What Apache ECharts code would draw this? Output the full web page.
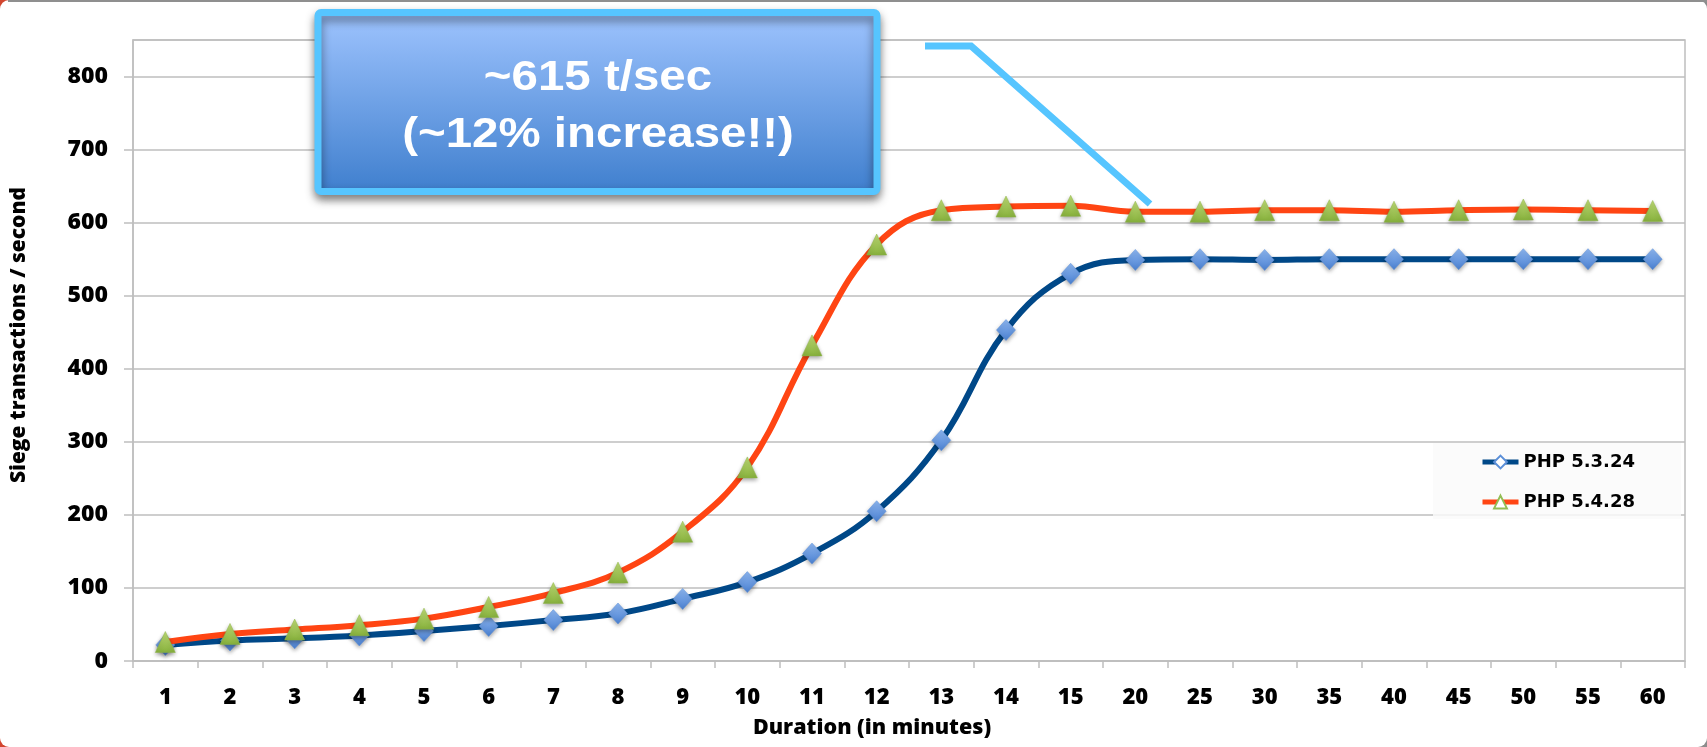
<!DOCTYPE html>
<html>
<head>
<meta charset="utf-8">
<script src="https://cdn.jsdelivr.net/npm/echarts@6/dist/echarts.min.js"></script>
<style>
  html, body { margin: 0; padding: 0; width: 1707px; height: 747px; overflow: hidden;
    background: linear-gradient(90deg, #d2452f 0px, #d2452f 40px, #8c8c8c 40px); }
  #chart { position: absolute; left: 0; top: 0; width: 1707px; height: 747px; background: #fff; border-radius: 9px; }
  #topline { position: absolute; left: 8px; right: 0; top: 0; height: 2px; background: #8f8f8f; }
</style>
</head>
<body>
<div id="chart"></div>
<div id="topline"></div>
<script>
// ---- data ----
const categories = ['1','2','3','4','5','6','7','8','9','10','11','12','13','14','15','20','25','30','35','40','45','50','55','60'];
const php5324 = [22, 28, 31, 35, 41, 48, 56, 65, 85, 108, 147, 205, 302, 453, 530, 549, 550, 549, 550, 550, 550, 550, 550, 550];
const php5428 = [26, 37, 43, 49, 58, 74, 93, 121, 177, 265, 432, 570, 617, 622, 623, 615, 615, 617, 617, 615, 617, 618, 617, 616];
const seriesNames = ['PHP 5.3.24', 'PHP 5.4.28'];
const yTicks = { min: 0, max: 850, interval: 100 };
const xTitle = 'Duration (in minutes)';
const yTitle = 'Siege transactions / second';
const noteLines = ['~615 t/sec', '(~12% increase!!)'];

const chart = echarts.init(document.getElementById('chart'));
const grey = '#BEBEBE';
const labelFont = 'Open Sans';

const option = {
  animation: false,
  backgroundColor: 'transparent',
  grid: { left: 133, right: 22, top: 40, bottom: 86, show: true, borderColor: grey, borderWidth: 1.5 },
  legend: {
    orient: 'vertical',
    left: 1433, top: 443,
    padding: [10, 46, 8, 47],
    backgroundColor: 'rgba(250,250,250,0.85)',
    itemWidth: 36, itemHeight: 16, itemGap: 22,
    lineStyle: { width: 5 },
    textStyle: { fontFamily: 'DejaVu Sans', fontWeight: 'bold', fontSize: 18, color: '#000' },
    data: [
      { name: seriesNames[0], itemStyle: { color: '#ffffff', borderColor: '#5B8FD8', borderWidth: 2, shadowBlur: 0, shadowOffsetY: 0 } },
      { name: seriesNames[1], itemStyle: { color: '#ffffff', borderColor: '#93BE55', borderWidth: 2, shadowBlur: 0, shadowOffsetY: 0 } }
    ]
  },
  xAxis: {
    type: 'category',
    data: categories,
    boundaryGap: true,
    name: xTitle,
    nameLocation: 'middle',
    nameGap: 56,
    nameTextStyle: { fontFamily: labelFont, fontWeight: 800, fontSize: 21.5, color: '#000', padding: [0, 74, 0, 0] },
    axisLine: { lineStyle: { color: grey, width: 1.5 } },
    axisTick: { show: true, interval: 0, alignWithLabel: false, length: 7, lineStyle: { color: grey, width: 1.5 } },
    axisLabel: { interval: 0, margin: 26, fontFamily: labelFont, fontWeight: 800, fontSize: 22, color: '#000' },
    splitLine: { show: false }
  },
  yAxis: {
    type: 'value',
    min: yTicks.min, max: yTicks.max, interval: yTicks.interval,
    name: yTitle,
    nameLocation: 'middle',
    nameGap: 103,
    nameTextStyle: { fontFamily: labelFont, fontWeight: 800, fontSize: 21, color: '#000', padding: [0, 0, 0, 31] },
    axisLine: { show: true, lineStyle: { color: grey, width: 1.5 } },
    axisTick: { show: true, length: 9, lineStyle: { color: grey, width: 1.5 } },
    axisLabel: { margin: 25, showMaxLabel: false, fontFamily: labelFont, fontWeight: 800, fontSize: 23, color: '#000' },
    splitLine: { show: true, lineStyle: { color: grey, width: 1.5 } }
  },
  series: [
    {
      name: seriesNames[0],
      type: 'line',
      data: php5324,
      smooth: 0.4,
      symbol: 'diamond',
      symbolSize: [19, 21],
      lineStyle: { color: '#004888', width: 6 },
      itemStyle: {
        color: new echarts.graphic.LinearGradient(0, 0, 0, 1, [
          { offset: 0, color: '#8DB6F0' }, { offset: 1, color: '#4A80D0' }
        ]),
        borderColor: '#5A8ED8', borderWidth: 0.5,
        shadowBlur: 4, shadowColor: 'rgba(0,0,0,0.35)', shadowOffsetY: 2
      },
      z: 2
    },
    {
      name: seriesNames[1],
      type: 'line',
      data: php5428,
      smooth: 0.4,
      symbol: 'triangle',
      symbolSize: [20, 21],
      lineStyle: { color: '#FF4513', width: 6 },
      itemStyle: {
        color: new echarts.graphic.LinearGradient(0, 0, 0, 1, [
          { offset: 0, color: '#BEDB75' }, { offset: 1, color: '#86B03C' }
        ]),
        borderColor: '#8CB547', borderWidth: 0.5,
        shadowBlur: 4, shadowColor: 'rgba(0,0,0,0.35)', shadowOffsetY: 2
      },
      z: 3
    }
  ],
  graphic: [
    {
      type: 'polyline',
      z: 100,
      shape: { points: [[925, 46], [971, 46], [1150, 204]] },
      style: { stroke: '#56C5FF', lineWidth: 7, fill: null, lineJoin: 'miter' }
    },
    {
      type: 'rect',
      z: 100,
      shape: { x: 318, y: 12.5, width: 559, height: 179, r: 3 },
      style: {
        fill: new echarts.graphic.LinearGradient(0, 0, 0, 1, [
          { offset: 0, color: '#A0C5FF' }, { offset: 1, color: '#3E7ECD' }
        ]),
        stroke: '#56C5FF', lineWidth: 7,
        shadowBlur: 10, shadowColor: 'rgba(0,0,0,0.45)', shadowOffsetY: 5
      }
    },
    {
      type: 'text',
      z: 101,
      x: 598, y: 78, scaleX: 1.13, scaleY: 1,
      style: { text: noteLines[0], fill: '#fff', font: 'bold 42px "Liberation Sans"', textAlign: 'center', textVerticalAlign: 'middle' }
    },
    {
      type: 'text',
      z: 101,
      x: 598, y: 135, scaleX: 1.13, scaleY: 1,
      style: { text: noteLines[1], fill: '#fff', font: 'bold 42px "Liberation Sans"', textAlign: 'center', textVerticalAlign: 'middle' }
    }
  ]
};
chart.setOption(option);
</script>
</body>
</html>
